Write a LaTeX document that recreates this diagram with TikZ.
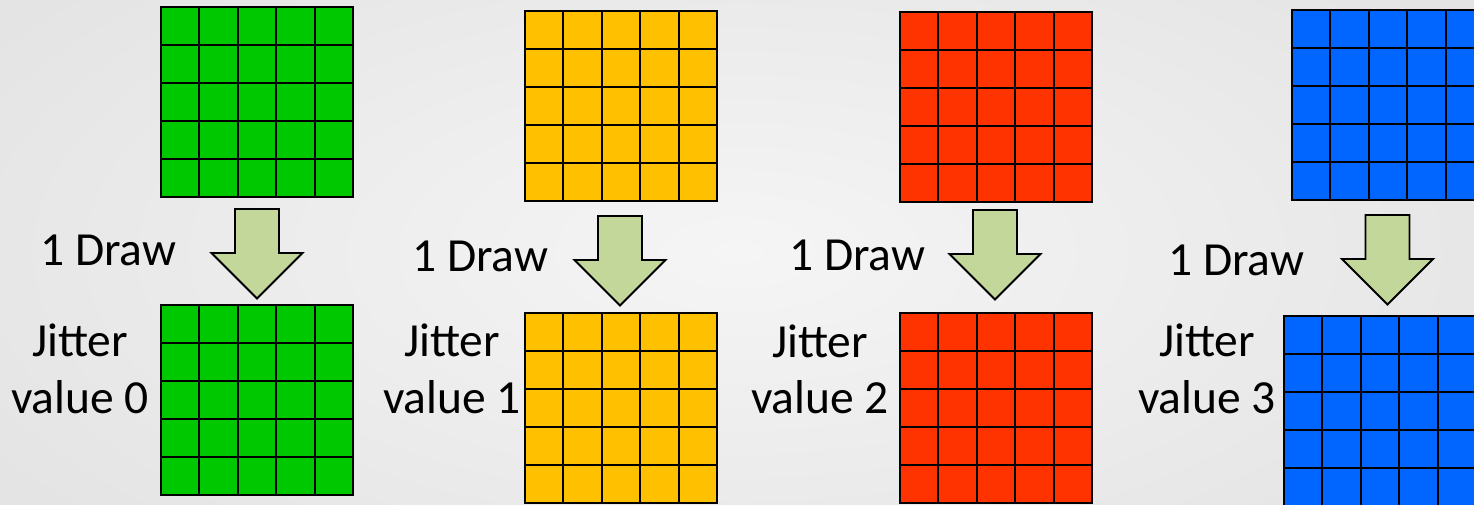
\documentclass[tikz,border=0pt]{standalone}
\usepackage{fontspec}
\setmainfont{Carlito}
\usetikzlibrary{calc}
\definecolor{cgreen}{HTML}{00C800}
\definecolor{cyellow}{HTML}{FFC000}
\definecolor{cred}{HTML}{FF3300}
\definecolor{cblue}{HTML}{0066FF}
\definecolor{arrowfill}{HTML}{C4D79B}
\definecolor{bginner}{HTML}{F5F5F5}
\definecolor{bgouter}{HTML}{E4E4E4}
\tikzset{
  gridbox/.style={draw=black, line width=2pt, minimum width=192pt, minimum height=190pt,
    inner sep=0pt, outer sep=0pt, anchor=north west},
  gridline/.style={line width=2pt},
  arrowstyle/.style={draw=black, line width=1.8pt, fill=arrowfill, line join=miter},
  lbl/.style={font=\fontsize{47.5}{55}\selectfont, inner sep=0pt, text=black},
  blockarrow/.pic={
    \draw[arrowstyle] (-22,0) -- (22,0) -- (22,44) -- (45.5,44) -- (0,89.5)
      -- (-45.5,44) -- (-22,44) -- cycle;
  }
}
\newcommand\mygrid[4]{%
  \node[gridbox, fill=#4] (#1) at (#2,#3) {};
  \foreach \i in {1,...,4}{
    \draw[gridline] ($(#1.north west)!\i/5!(#1.north east)$) -- ($(#1.south west)!\i/5!(#1.south east)$);
    \draw[gridline] ($(#1.north west)!\i/5!(#1.south west)$) -- ($(#1.north east)!\i/5!(#1.south east)$);
  }%
}
\begin{document}
\begin{tikzpicture}[x=1pt,y=-1pt]
  \useasboundingbox (0,0) rectangle (1474,505);
  \clip (0,0) rectangle (1474,505);
  \shade[inner color=bginner, outer color=bgouter] (-150,-150) rectangle (1624,655);

  % grids
  \mygrid{gTop}{161}{7}{cgreen}
  \mygrid{gBot}{161}{305}{cgreen}
  \mygrid{yTop}{525}{11}{cyellow}
  \mygrid{yBot}{525}{313}{cyellow}
  \mygrid{rTop}{900}{12}{cred}
  \mygrid{rBot}{900}{313}{cred}
  \mygrid{bTop}{1292}{10}{cblue}
  \mygrid{bBot}{1284}{316}{cblue}

  % block arrows
  \pic (aG) at (257,209) {blockarrow};
  \pic (aY) at (620,216) {blockarrow};
  \pic (aR) at (995,210) {blockarrow};
  \pic (aB) at (1387.5,215) {blockarrow};

  % "1 Draw" labels
  \node[lbl, anchor=base west] (dG) at (40,265) {1 Draw};
  \node[lbl, anchor=base west] (dY) at (412,271) {1 Draw};
  \node[lbl, anchor=base west] (dR) at (789,270) {1 Draw};
  \node[lbl, anchor=base west] (dB) at (1168,275) {1 Draw};

  % Jitter labels
  \node[lbl, anchor=base] (jG1) at (80,356) {Jitter};
  \node[lbl, anchor=base] (jG2) at (80,413) {value 0};
  \node[lbl, anchor=base] (jY1) at (452,356) {Jitter};
  \node[lbl, anchor=base] (jY2) at (452,413) {value 1};
  \node[lbl, anchor=base] (jR1) at (820,357) {Jitter};
  \node[lbl, anchor=base] (jR2) at (820,413) {value 2};
  \node[lbl, anchor=base] (jB1) at (1207,356) {Jitter};
  \node[lbl, anchor=base] (jB2) at (1207,413) {value 3};
\end{tikzpicture}
\end{document}
